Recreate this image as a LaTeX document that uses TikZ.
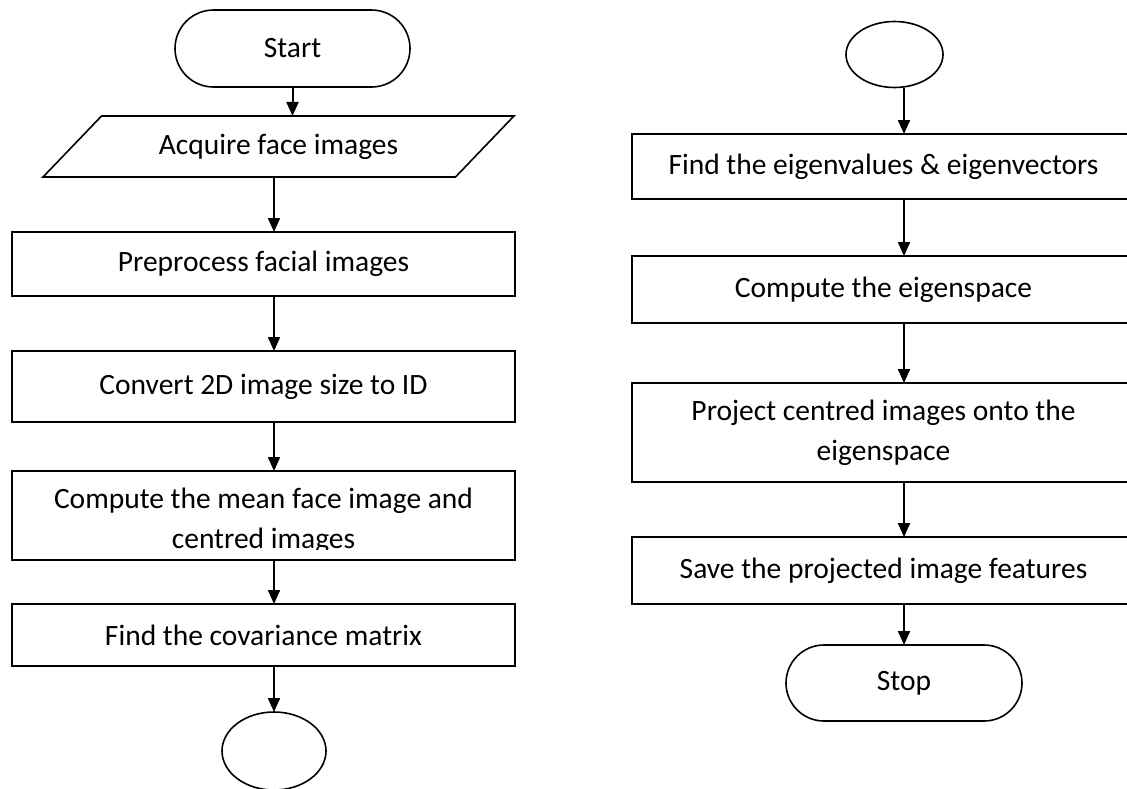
\documentclass[tikz,border=0pt]{standalone}
\usepackage{fontspec}
\setmainfont{Carlito}
\usetikzlibrary{shapes.geometric, shapes.misc, arrows.meta, calc}

\begin{document}
\begin{tikzpicture}[x=1pt, y=-1pt, line width=1.6pt,
    every node/.style={font=\fontsize{29.5}{40}\selectfont, inner sep=0pt, outer sep=0pt},
    procbox/.style={draw, rectangle, minimum width=503, minimum height=#1, align=center},
    termbox/.style={draw, rounded rectangle, minimum width=235, minimum height=77},
    iobox/.style={draw, trapezium, trapezium left angle=32.7, trapezium right angle=147.3,
                  trapezium stretches=true, minimum width=473, minimum height=61},
    linkcirc/.style={draw, ellipse, minimum width=#1},
    flow/.style={-{Triangle[length=14pt, width=12pt]}, line width=2pt}]
    \useasboundingbox (0,0) rectangle (1127,788);

    % left column: training steps up to the covariance matrix
    \node[termbox] (start) at (292.5,48.5) {Start};
    \node[iobox] (input) at (278.5,146.5) {Acquire face images};
    \node[procbox=64] (prep) at (263.5,264) {Preprocess facial images};
    \node[procbox=71] (conv) at (263.5,386.5) {Convert 2D image size to ID};
    \node[procbox=89] (mean) at (263.5,515.5) {};
    \begin{scope}
        \clip (mean.north west) rectangle ($(mean.south east)+(0,-11)$);
        \node[align=center] (meantxt) at (263.5,521) {Compute the mean face image and\\centred images};
    \end{scope}
    \node[procbox=62] (cov) at (263.5,635) {Find the covariance matrix};
    \node[linkcirc=104, minimum height=78] (outA) at (274,751) {};

    % right column: eigen decomposition and projection
    \node[linkcirc=97, minimum height=66] (inB) at (894.5,54.5) {};
    \node[procbox=65] (eig) at (883.5,166.5) {Find the eigenvalues \& eigenvectors};
    \node[procbox=67] (space) at (883.5,289.5) {Compute the eigenspace};
    \node[procbox=99] (proj) at (883.5,432.5) {Project centred images onto the\\eigenspace};
    \node[procbox=67] (save) at (883.5,570.5) {Save the projected image features};
    \node[termbox, minimum width=236, minimum height=76] (stop) at (904,683) {Stop};

    % connectors
    \draw[flow] (start.south) -- (start.south |- input.north);
    \draw[flow] (input.south -| outA) -- (prep.north -| outA);
    \draw[flow] (prep.south -| outA) -- (conv.north -| outA);
    \draw[flow] (conv.south -| outA) -- (mean.north -| outA);
    \draw[flow] (mean.south -| outA) -- (cov.north -| outA);
    \draw[flow] (cov.south -| outA) -- (outA.north);

    \draw[flow] (inB.south -| stop) -- (eig.north -| stop);
    \draw[flow] (eig.south -| stop) -- (space.north -| stop);
    \draw[flow] (space.south -| stop) -- (proj.north -| stop);
    \draw[flow] (proj.south -| stop) -- (save.north -| stop);
    \draw[flow] (save.south -| stop) -- (stop.north);
\end{tikzpicture}
\end{document}
